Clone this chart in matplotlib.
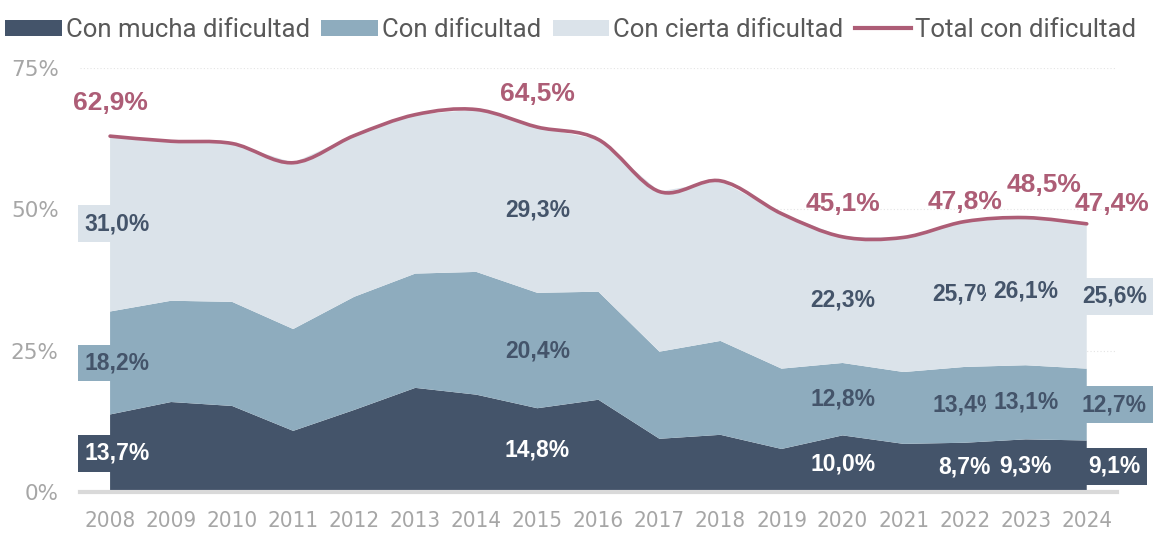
import numpy as np
from matplotlib import pyplot as plt
from matplotlib.path import Path
from matplotlib.patches import PathPatch
from matplotlib.lines import Line2D
from matplotlib.patches import Patch

years = list(range(2008, 2025))
mucha = [13.7, 15.9, 15.2, 10.8, 14.5, 18.4, 17.2, 14.8, 16.3, 9.4, 10.1, 7.6, 10.0, 8.5, 8.7, 9.3, 9.1]
dificultad = [18.2, 17.9, 18.4, 18.0, 20.0, 20.2, 21.7, 20.4, 19.1, 15.4, 16.6, 14.2, 12.8, 12.7, 13.4, 13.1, 12.7]
cierta = [31.0, 28.2, 28.0, 29.4, 28.5, 28.1, 28.7, 29.3, 26.9, 28.3, 28.3, 27.4, 22.3, 23.8, 25.7, 26.1, 25.6]
labelled_years = [2008, 2015, 2020, 2022, 2023, 2024]
series_names = ['Con mucha dificultad', 'Con dificultad', 'Con cierta dificultad', 'Total con dificultad']

c_dark = '#44546a'
c_mid = '#8eacbe'
c_light = '#dbe3ea'
c_line = '#ad5d76'

def fmt(v):
    return '{:.1f}%'.format(v).replace('.', ',')

x = np.array(years, dtype=float)
a = np.array(mucha)
b = np.array(dificultad)
c = np.array(cierta)
total = a + b + c

fig = plt.figure(figsize=(11.53, 5.33), dpi=100)
ax = fig.add_axes([0.069, 0.077, 0.9, 0.796])

ax.stackplot(x, a, b, c, colors=[c_dark, c_mid, c_light], zorder=2)

# smooth line (catmull-rom style bezier, like excel)
pts = np.column_stack([x, total])
verts = [pts[0]]
codes = [Path.MOVETO]
n = len(pts)
for i in range(n - 1):
    p0 = pts[max(i - 1, 0)]
    p1 = pts[i]
    p2 = pts[i + 1]
    p3 = pts[min(i + 2, n - 1)]
    verts += [p1 + (p2 - p0) / 6, p2 - (p3 - p1) / 6, p2]
    codes += [Path.CURVE4] * 3
ax.add_patch(PathPatch(Path(verts, codes), fill=False, edgecolor=c_line, lw=2.6, zorder=4, capstyle='round'))

ax.set_xlim(2007.5, 2024.5)
ax.set_ylim(0, 75)
ax.set_yticks([0, 25, 50, 75])
ax.set_yticklabels(['0%', '25%', '50%', '75%'])
ax.set_xticks(years)
ax.set_xticklabels([str(y) for y in years], family=['Liberation Sans Narrow', 'DejaVu Sans'], fontstretch='condensed')
ax.tick_params(axis='y', length=0, pad=15, labelsize=15.5, labelcolor='#a6a6a6')
ax.tick_params(axis='x', length=0, pad=14, labelsize=16, labelcolor='#a6a6a6')
for s in ['top', 'right', 'left']:
    ax.spines[s].set_visible(False)
ax.spines['bottom'].set_color('#d9d9d9')
ax.spines['bottom'].set_linewidth(3)
ax.spines['bottom'].set_zorder(5)
ax.grid(axis='y', color='#e4e4e4', linestyle=(0, (1, 2)), lw=0.8, zorder=0)
ax.set_axisbelow(True)

# data labels
lab_dx = {2008: 0.12, 2024: 0.45}
bottoms = [np.zeros(n), a, a + b]
vals = [a, b, c]
for k, (vv, bb, fc, tc) in enumerate(zip(vals, bottoms, [c_dark, c_mid, c_light], ['white', c_dark, c_dark])):
    for yr in labelled_years:
        i = years.index(yr)
        ax.text(yr + lab_dx.get(yr, 0), bb[i] + vv[i] / 2, fmt(vv[i]), ha='center', va='center',
                fontsize=16.5, fontweight='bold', color=tc, family='Liberation Sans', zorder=6,
                bbox=dict(boxstyle='square,pad=0.3', fc=fc, ec='none'), clip_on=False)

tot_dx = {2023: 0.3, 2024: 0.42}
tot_dy = {2022: 20, 2024: 20}
for yr in labelled_years:
    i = years.index(yr)
    ax.annotate(fmt(total[i]), (yr + tot_dx.get(yr, 0), total[i]), xytext=(0, tot_dy.get(yr, 33) * 0.72),
                textcoords='offset points', ha='center', va='center', fontsize=19, fontweight='bold',
                color=c_line, family='Liberation Sans', zorder=6, annotation_clip=False)

handles = [Patch(fc=c_dark), Patch(fc=c_mid), Patch(fc=c_light), Line2D([0], [0], color=c_line, lw=3)]
fig.legend(handles, series_names, loc='upper center', bbox_to_anchor=(0.495, 1.0), ncol=4, frameon=False,
           prop={'family': 'Roboto', 'size': 18.5}, labelcolor='#595959', handlelength=2.2, handleheight=0.6,
           handletextpad=0.15, columnspacing=0.45, borderaxespad=0.3)

fig.savefig('out.png', dpi=100)
